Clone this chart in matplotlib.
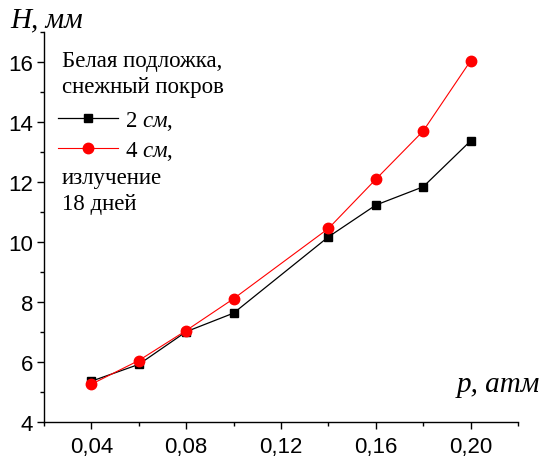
import matplotlib
matplotlib.use("Agg")
import matplotlib.pyplot as plt
from matplotlib.ticker import MultipleLocator, FuncFormatter

plt.rcParams['mathtext.fontset'] = 'custom'
plt.rcParams['mathtext.rm'] = 'Liberation Serif'
plt.rcParams['mathtext.it'] = 'Liberation Serif:italic'

p = [0.04, 0.06, 0.08, 0.10, 0.14, 0.16, 0.18, 0.20]
h_2cm = [5.37, 5.93, 7.02, 7.64, 10.18, 11.24, 11.85, 13.38]
h_4cm = [5.27, 6.06, 7.06, 8.12, 10.46, 12.10, 13.71, 16.05]
label_2cm = r"2 $\mathit{см}$,"
label_4cm = r"4 $\mathit{см}$,"
xlabel = "p, атм"
ylabel = "H, мм"
text_top = "Белая подложка,\nснежный покров"
text_bottom = "излучение\n18 дней"

fig = plt.figure(figsize=(5.43, 4.64), dpi=100)
ax = fig.add_axes([44/543, 1-423.3/464, 474/543, 390/464])

l1, = ax.plot(p, h_2cm, color='black', lw=0.9, marker='s', ms=6,
              mfc='black', mec='black', zorder=3, label=label_2cm)
l2, = ax.plot(p, h_4cm, color='red', lw=0.8, marker='o', ms=7.5,
              mfc='red', mec='red', zorder=4, label=label_4cm)

ax.set_xlim(0.02, 0.22)
ax.set_ylim(4, 17)
ax.spines['top'].set_visible(False)
ax.spines['right'].set_visible(False)
for s in ('left', 'bottom'):
    ax.spines[s].set_linewidth(1.0)

ax.xaxis.set_major_locator(MultipleLocator(0.04))
ax.xaxis.set_minor_locator(MultipleLocator(0.02))
ax.yaxis.set_major_locator(MultipleLocator(2))
ax.yaxis.set_minor_locator(MultipleLocator(1))
ax.xaxis.set_major_formatter(FuncFormatter(lambda v, pos: f"{v:.2f}".replace('.', ',')))
ax.yaxis.set_major_formatter(FuncFormatter(lambda v, pos: f"{v:.0f}"))
ax.set_xticks([0.04, 0.08, 0.12, 0.16, 0.20])
ax.tick_params(which='major', direction='out', length=5, width=1.0,
               labelsize=16, pad=3)
ax.tick_params(axis='x', which='major', pad=5)
ax.tick_params(which='minor', direction='out', length=3, width=1.0)
for lab in ax.get_xticklabels() + ax.get_yticklabels():
    lab.set_fontfamily('Liberation Sans')

serif = 'Liberation Serif'
ax.text(-0.072, 1.034, ylabel, transform=ax.transAxes, ha='left', va='center',
        fontsize=21, fontstyle='italic', family=serif)
ax.text(1.046, 0.098, xlabel, transform=ax.transAxes, ha='right', va='center',
        fontsize=21, fontstyle='italic', family=serif)

ax.text(0.038, 0.955, text_top, transform=ax.transAxes, ha='left', va='top',
        fontsize=16.5, family=serif, linespacing=1.3)
ax.text(0.038, 0.655, text_bottom, transform=ax.transAxes, ha='left', va='top',
        fontsize=16.5, family=serif, linespacing=1.3)

leg = ax.legend(handles=[l1, l2], loc='upper left', bbox_to_anchor=(0.03, 0.803),
                frameon=False, handlelength=2.6, handletextpad=0.3,
                labelspacing=0.3, borderpad=0, borderaxespad=0,
                prop={'family': serif, 'size': 16.5})

fig.savefig("out.png", dpi=100)
